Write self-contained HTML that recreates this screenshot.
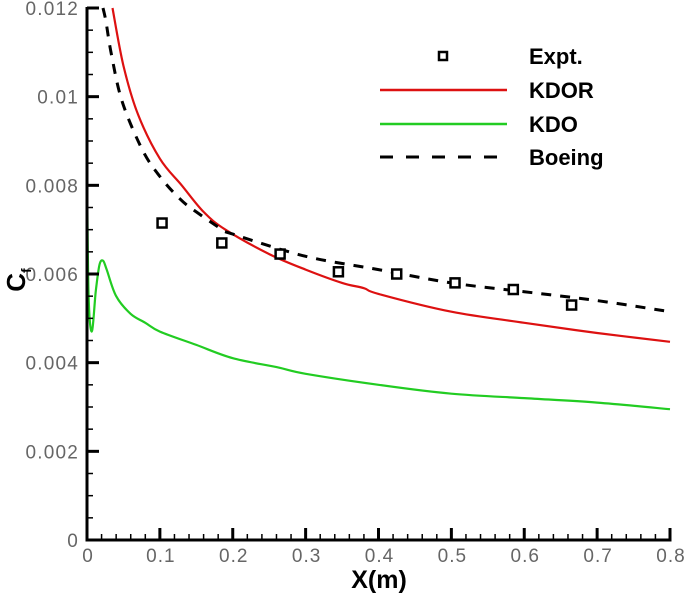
<!DOCTYPE html>
<html><head><meta charset="utf-8"><style>
html,body{margin:0;padding:0;background:#fff;}
svg{display:block;font-family:"Liberation Sans",Arial,sans-serif;}
</style></head><body>
<svg id="chart" width="685" height="598" viewBox="0 0 685 598"></svg>
<script>
const xTicks=[0,0.1,0.2,0.3,0.4,0.5,0.6,0.7,0.8];
const xTickLabels=["0","0.1","0.2","0.3","0.4","0.5","0.6","0.7","0.8"];
const yTicks=[0,0.002,0.004,0.006,0.008,0.01,0.012];
const yTickLabels=["0","0.002","0.004","0.006","0.008","0.01","0.012"];
const exptX=[0.103,0.185,0.265,0.345,0.425,0.505,0.585,0.665];
const exptY=[0.00715,0.0067,0.00645,0.00605,0.006,0.0058,0.00565,0.0053];
const kdorX=[0.035,0.05,0.07,0.1,0.13,0.16,0.19,0.25,0.3,0.35,0.38,0.4,0.5,0.6,0.7,0.8];
const kdorY=[0.012,0.0107,0.0096,0.0086,0.008,0.0074,0.007,0.00645,0.0061,0.0058,0.00568,0.00555,0.00515,0.0049,0.00467,0.00447];
const kdoX=[0,0.002,0.0065,0.012,0.017,0.022,0.027,0.04,0.06,0.08,0.1,0.15,0.2,0.26,0.3,0.4,0.5,0.6,0.7,0.8];
const kdoY=[0.0085,0.0056,0.0047,0.0056,0.0062,0.0063,0.0061,0.0055,0.0051,0.0049,0.0047,0.0044,0.0041,0.0039,0.00375,0.0035,0.0033,0.0032,0.0031,0.00295];
const boeX=[0.022,0.026,0.033,0.048,0.076,0.1,0.127,0.15,0.186,0.2,0.3,0.4,0.5,0.6,0.7,0.8];
const boeY=[0.012,0.0117,0.011,0.0099,0.0088,0.0082,0.0077,0.0074,0.007,0.0069,0.0064,0.0061,0.0058,0.0056,0.0054,0.00515];

const NS="http://www.w3.org/2000/svg";
const svg=document.getElementById('chart');
const X0=87,X1=670,Y0=540,Y1=8;
const sx=v=>X0+v/0.8*(X1-X0);
const sy=v=>Y0-v/0.012*(Y0-Y1);
function mk(tag,attrs,parent){const e=document.createElementNS(NS,tag);for(const k in attrs)e.setAttribute(k,attrs[k]);(parent||svg).appendChild(e);return e;}
function smooth(xs,ys){
  const P=xs.map((x,i)=>[sx(x),sy(ys[i])]);
  let d='M'+P[0][0].toFixed(1)+','+P[0][1].toFixed(1);
  for(let i=0;i<P.length-1;i++){
    const p0=P[i-1]||P[i],p1=P[i],p2=P[i+1],p3=P[i+2]||P[i+1];
    const c1=[p1[0]+(p2[0]-p0[0])/6,p1[1]+(p2[1]-p0[1])/6];
    const c2=[p2[0]-(p3[0]-p1[0])/6,p2[1]-(p3[1]-p1[1])/6];
    d+=' C'+c1.map(v=>v.toFixed(1)).join(',')+' '+c2.map(v=>v.toFixed(1)).join(',')+' '+p2.map(v=>v.toFixed(1)).join(',');
  }
  return d;
}
function line(xs,ys,color,dash,name){
  const p=mk('path',{d:smooth(xs,ys),fill:'none',stroke:color,'stroke-width':dash?3:2.2,'stroke-dasharray':dash||'none','stroke-linejoin':'round'});
  
  
}
line(kdoX,kdoY,'#22cc22',null,'kdo-line');
line(kdorX,kdorY,'#dd1111',null,'kdor-line');
line(boeX,boeY,'#000','10,9','boeing-line');
exptX.forEach((x,i)=>{
  const r=mk('rect',{x:sx(x)-4.5,y:sy(exptY[i])-4.5,width:9,height:9,fill:'#fff',stroke:'#000','stroke-width':2.5});
  
  
});

const ax=mk('g',{});


mk('line',{x1:X0,y1:Y1-1,x2:X0,y2:Y0+1.5,stroke:'#000','stroke-width':3},ax);
mk('line',{x1:X0-1.5,y1:Y0,x2:X1+1.5,y2:Y0,stroke:'#000','stroke-width':3},ax);
mk('line',{x1:X0,y1:Y1,x2:X0+12,y2:Y1,stroke:'#000','stroke-width':3},ax);
for(let v=0;v<=0.8001;v+=0.02){
  const major=Math.abs(v*10-Math.round(v*10))<1e-6;
  mk('line',{x1:sx(v),y1:Y0,x2:sx(v),y2:Y0-(major?12:6),stroke:'#000','stroke-width':major?3:1.5},ax);
}
for(let v=0;v<=0.01201;v+=0.0005){
  const major=Math.abs(v/0.002-Math.round(v/0.002))<1e-6;
  mk('line',{x1:X0,y1:sy(v),x2:X0+(major?12:6),y2:sy(v),stroke:'#000','stroke-width':major?3:1.5},ax);
}
xTicks.forEach((v,i)=>{
  const t=mk('text',{x:sx(v)+1,y:562,'text-anchor':'middle','font-size':19,'letter-spacing':1,fill:'#666'});
  t.textContent=xTickLabels[i];
  
  
});
yTicks.forEach((v,i)=>{
  const t=mk('text',{x:79,y:sy(v)+7,'text-anchor':'end','font-size':19,'letter-spacing':1.2,fill:'#666'});
  t.textContent=yTickLabels[i];
  
  
});
const xt=mk('text',{x:379,y:588,'text-anchor':'middle','font-size':25,'font-weight':'bold',fill:'#000'});
xt.textContent='X(m)';


const yt=mk('text',{transform:'translate(25,280) rotate(-90)','text-anchor':'middle','font-size':26,'font-weight':'bold',fill:'#000'});
yt.innerHTML='C<tspan font-size="14" dy="6">f</tspan>';



const lg=mk('g',{});


mk('rect',{x:439,y:52,width:8,height:8,fill:'#fff',stroke:'#000','stroke-width':2.5},lg);
mk('line',{x1:380,y1:90,x2:507,y2:90,stroke:'#dd1111','stroke-width':2.5},lg);
mk('line',{x1:380,y1:124,x2:507,y2:124,stroke:'#22cc22','stroke-width':2.5},lg);
mk('line',{x1:380,y1:157,x2:507,y2:157,stroke:'#000','stroke-width':3,'stroke-dasharray':'13,13'},lg);
[['Expt.',64],['KDOR',98],['KDO',132],['Boeing',165]].forEach(([s,y])=>{
  const t=mk('text',{x:529,y:y,'font-size':22,'font-weight':'bold',fill:'#000'},lg);
  t.textContent=s;
  
  
});
</script>
</body></html>
